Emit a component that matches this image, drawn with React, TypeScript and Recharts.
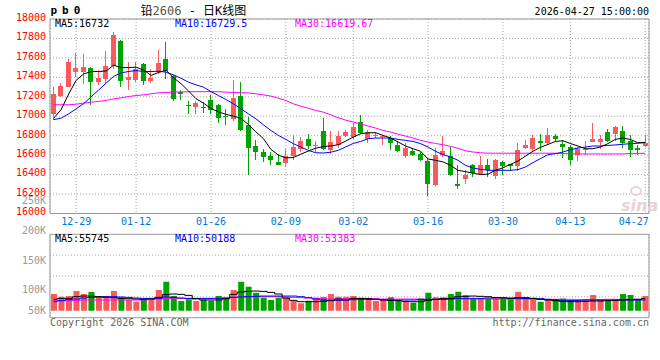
import React from "react";
import { ComposedChart, Bar, Line, XAxis, YAxis, CartesianGrid, ReferenceArea, Cell } from "recharts";

const FONT = '"DejaVu Sans Mono", "Liberation Mono", monospace';
const CJK = '"DejaVu Sans Mono", "Noto Sans CJK SC", monospace';
const RED = "#f95a5a";
const GREEN = "#00a400";
const GRID = "#a8a8a8";
const BORDER = "#999999";
const BLUE_TXT = "#0078d2";

const DATES = [
  "12-24","12-25","12-26","12-29","12-30","12-31","01-05","01-06","01-07","01-08",
  "01-09","01-12","01-13","01-14","01-15","01-16","01-19","01-20","01-21","01-22",
  "01-23","01-26","01-27","01-28","01-29","01-30","02-02","02-03","02-04","02-05",
  "02-06","02-09","02-10","02-11","02-12","02-13","02-24","02-25","02-26","02-27",
  "03-02","03-03","03-04","03-05","03-06","03-09","03-10","03-11","03-12","03-13",
  "03-16","03-17","03-18","03-19","03-20","03-23","03-24","03-25","03-26","03-27",
  "03-30","03-31","04-01","04-02","04-03","04-07","04-08","04-09","04-10","04-13",
  "04-14","04-15","04-16","04-17","04-20","04-21","04-22","04-23","04-24","04-27",
];

const OPEN = [
  17020,17210,17305,17460,17460,17495,17355,17380,17520,17775,
  17375,17375,17540,17365,17455,17590,17410,17250,17120,17090,
  17100,17170,17120,17000,16975,17205,16910,16690,16630,16590,
  16530,16520,16590,16660,16770,16690,16850,16650,16700,16795,
  16785,16940,16770,16800,16785,16775,16705,16590,16645,16610,
  16540,16290,16600,16590,16300,16350,16495,16410,16500,16385,
  16530,16505,16485,16675,16665,16745,16720,16795,16710,16685,
  16600,16650,16740,16740,16835,16815,16845,16750,16675,16695,
];
const HIGH = [
  17300,17340,17590,17650,17640,17505,17480,17670,17865,17780,
  17555,17555,17545,17485,17680,17765,17420,17270,17160,17160,
  17145,17215,17130,17075,17375,17350,16990,16760,16665,16630,
  16615,16665,16805,16785,16820,16750,16985,16845,16845,16855,
  16935,17015,16860,16840,16810,16795,16750,16730,16665,16630,
  16565,16675,16795,16685,16495,16445,16510,16590,16565,16565,
  16535,16510,16730,16760,16810,16820,16880,16820,16760,16700,
  16685,16750,16935,16805,16870,16900,16900,16810,16705,16805,
];
const LOW = [
  16965,17195,17300,17400,17335,17120,17325,17345,17485,17305,
  17265,17350,17325,17345,17435,17380,17160,17170,17025,17020,
  17035,17025,16935,16905,16955,16845,16400,16555,16525,16495,
  16495,16480,16555,16630,16665,16630,16650,16615,16675,16790,
  16770,16820,16730,16780,16700,16650,16630,16575,16590,16535,
  16185,16280,16580,16390,16255,16305,16375,16395,16375,16350,
  16400,16435,16435,16660,16630,16640,16700,16735,16570,16495,
  16535,16600,16735,16665,16735,16750,16675,16580,16605,16685,
];
const CLOSE = [
  17230,17315,17560,17495,17505,17350,17395,17515,17835,17365,
  17400,17485,17360,17390,17550,17470,17180,17225,17110,17140,
  17090,17060,16985,16990,17190,16855,16675,16630,16580,16545,
  16495,16590,16685,16745,16690,16700,16660,16735,16795,16835,
  16890,16830,16835,16810,16795,16730,16640,16675,16605,16545,
  16300,16600,16640,16400,16285,16395,16420,16495,16445,16555,
  16485,16485,16655,16700,16780,16720,16805,16770,16685,16555,
  16665,16665,16770,16770,16750,16890,16720,16650,16655,16720,
];

const MA5 = [
  16980,17070,17230,17370,17435,17460,17460,17465,17525,17500,
  17500,17505,17475,17420,17450,17473,17395,17335,17260,17180,
  17135,17080,17045,17020,17000,16980,16915,16840,16770,16660,
  16600,16572,16575,16610,16642,16672,16688,16695,16707,16745,
  16786,16820,16830,16830,16803,16776,16735,16694,16666,16639,
  16560,16547,16530,16495,16444,16430,16415,16400,16405,16445,
  16470,16505,16540,16590,16640,16680,16710,16741,16748,16720,
  16694,16666,16666,16683,16718,16762,16776,16762,16728,16732,
];
const MA10 = [
  16965,16981,17025,17077,17130,17200,17270,17340,17410,17446,
  17460,17470,17460,17460,17463,17453,17425,17391,17350,17323,
  17299,17254,17213,17172,17128,17077,17025,16974,16912,16854,
  16803,16762,16718,16683,16649,16625,16622,16630,16650,16685,
  16720,16741,16769,16776,16776,16776,16762,16752,16741,16718,
  16683,16639,16605,16581,16547,16495,16468,16454,16444,16444,
  16444,16444,16451,16478,16523,16564,16605,16615,16632,16656,
  16673,16683,16694,16694,16700,16705,16712,16718,16722,16729.5,
];
const MA30 = [
  17118,17118,17118,17124,17135,17145,17152,17162,17179,17189,
  17203,17213,17220,17231,17241,17244,17248,17250,17252,17253,
  17253,17253,17252,17248,17245,17242,17240,17231,17220,17207,
  17186,17162,17128,17104,17083,17060,17042,17015,16985,16960,
  16940,16920,16899,16878,16854,16837,16815,16796,16776,16752,
  16735,16720,16707,16690,16670,16645,16632,16625,16620,16620,
  16620,16620,16620,16620,16620,16620,16620,16620,16617,16615,
  16612,16612,16612,16612,16612,16612,16612,16618,16618,16619.67,
];

// volume, in thousands of lots
const VOLUME_K = [
  61.7,57.2,58.3,66.7,61.7,65.0,57.2,58.3,66.7,56.1,
  51.7,48.9,51.7,51.7,68.3,82.2,58.3,50.0,52.8,50.0,
  51.7,50.6,58.3,54.4,68.3,82.2,73.9,63.9,55.6,51.7,
  55.6,55.6,50.6,46.1,50.6,55.6,56.1,61.7,57.2,57.2,
  58.3,54.4,54.4,50.0,51.7,56.1,51.7,50.0,47.2,54.4,
  63.9,56.1,56.1,61.7,65.6,60.0,53.3,54.4,54.4,56.1,
  54.4,52.8,65.6,56.1,54.4,48.9,52.8,51.7,54.4,51.7,
  51.7,51.7,60.0,51.7,50.0,51.7,61.7,60.0,51.7,58.3,
];
const VMA5_K = [
  52.8,54.4,54.4,57.2,58.3,58.3,57.2,56.1,55.6,54.4,
  53.9,53.3,52.8,53.3,56.1,60.6,61.7,61.1,59.4,53.9,
  51.7,51.7,51.7,53.9,61.1,65.0,66.1,66.7,66.1,64.4,
  61.7,55.0,51.1,48.9,48.9,48.9,49.4,51.0,53.3,51.7,
  54.4,54.4,53.9,52.8,51.7,51.1,50.6,49.4,48.9,48.9,
  51.1,52.8,53.9,54.4,57.2,57.8,58.3,57.8,57.2,55.6,
  55.0,54.4,55.6,55.6,54.4,52.8,51.7,50.6,49.4,48.9,
  48.9,49.4,50.0,50.0,50.6,51.1,51.7,52.2,52.8,54.4,
];
const VMA10_K = [
  48.9,50.6,52.2,53.3,55.0,56.1,56.7,57.2,57.2,56.7,
  56.1,55.0,54.4,54.4,54.4,56.7,56.1,55.0,54.4,54.4,
  54.4,54.4,54.4,55.0,56.1,56.7,57.2,57.8,58.3,58.3,
  58.3,58.3,58.3,57.2,55.6,53.3,51.7,50.6,51.1,51.7,
  52.2,52.8,52.8,52.8,52.2,51.7,51.7,51.7,51.7,52.2,
  52.8,52.8,52.8,53.3,54.4,54.4,54.4,54.4,55.0,55.6,
  55.6,55.0,54.4,54.4,54.4,53.9,52.8,52.2,51.1,50.6,
  51.1,51.7,51.7,51.7,51.7,51.7,51.7,51.7,51.7,51.7,
];
const VMA30_K = [
  50.6,50.6,50.6,51.1,51.7,51.7,51.7,51.7,51.7,51.7,
  51.7,51.7,51.7,52.8,53.3,53.9,54.4,54.4,53.9,53.3,
  53.3,53.9,54.4,55.0,56.1,56.7,57.2,57.2,57.2,57.2,
  57.2,56.7,56.1,55.6,55.0,54.4,53.9,53.3,53.3,53.9,
  54.4,54.4,54.4,53.9,53.3,53.3,53.3,53.3,53.3,53.3,
  52.8,52.8,53.3,53.3,53.3,53.3,53.3,53.3,53.3,53.3,
  53.3,53.3,53.3,53.3,53.3,53.3,52.8,52.8,52.8,52.8,
  52.2,52.2,52.2,52.2,52.8,52.8,52.8,52.8,52.8,53.4,
];

const DATE_TICKS = ["12-29","01-12","01-26","02-09","03-02","03-16","03-30","04-13","04-27"];
const PRICE_TICKS = [16000,16200,16400,16600,16800,17000,17200,17400,17600,17800,18000];
const VOL_TICKS = [50,100,150,200,250];
const VOL_GRID = [50,100,150];
const VOL_FLOOR = 33.8;

const PRICE_LEGEND = [
  { label: "MA5:16732", color: "#000000", x: 55 },
  { label: "MA10:16729.5", color: "#0000ff", x: 175 },
  { label: "MA30:16619.67", color: "#ff00ff", x: 295 },
];
const VOL_LEGEND = [
  { label: "MA5:55745", color: "#000000", x: 55 },
  { label: "MA10:50188", color: "#0000ff", x: 175 },
  { label: "MA30:53383", color: "#ff00ff", x: 295 },
];

const rows = DATES.map((date, i) => ({
  date,
  open: OPEN[i],
  high: HIGH[i],
  low: LOW[i],
  close: CLOSE[i],
  ma5: MA5[i],
  ma10: MA10[i],
  ma30: MA30[i],
  vol: VOLUME_K[i],
  vma5: VMA5_K[i],
  vma10: VMA10_K[i],
  vma30: VMA30_K[i],
}));

const Candle = (props: any) => {
  const { x, y, width, height, payload } = props;
  if (!payload || x == null || y == null) return null;
  const top = Math.min(y, y + height);
  const h = Math.abs(height);
  const { open, close, high, low } = payload;
  const up = close >= open;
  const color = up ? RED : GREEN;
  const range = high - low || 1;
  const yOf = (p: number) => top + ((high - p) / range) * h;
  const bTop = yOf(Math.max(open, close));
  const bBot = yOf(Math.min(open, close));
  const cx = Math.floor(x + width / 2) + 0.5;
  return (
    <g shapeRendering="crispEdges">
      <line x1={cx} x2={cx} y1={top} y2={top + h} stroke={color} strokeWidth={1} />
      <rect x={cx - 2.5} y={bTop} width={5} height={Math.max(1, bBot - bTop)} fill={color} />
    </g>
  );
};

const PriceTick = (p: any) => (
  <text x={p.x} y={p.y + 1.8} textAnchor="end" fill="#ff0000" fontSize={10} fontFamily={FONT}>
    {p.payload.value}
  </text>
);

const DateTick = (p: any) => {
  const last = p.payload.value === DATE_TICKS[DATE_TICKS.length - 1];
  return (
    <text
      x={last ? p.x + 3.5 : p.x}
      y={p.y + 11.5}
      textAnchor={last ? "end" : "middle"}
      fill={BLUE_TXT}
      fontSize={10}
      fontFamily={FONT}
    >
      {p.payload.value}
    </text>
  );
};

const VolTick = (p: any) => {
  const v = p.payload.value;
  const shift = Math.min(13.4, -3.6 + ((200 - v) / 50) * 9.15);
  return (
    <text x={p.x} y={p.y + shift + 3.6} textAnchor="end" fill="#9a9a9a" fontSize={10} fontFamily={FONT}>
      {v + "K"}
    </text>
  );
};

export default function App() {
  return (
    <div
      style={{
        position: "absolute",
        left: 0,
        top: 0,
        width: 660,
        height: 360,
        background: "#ffffff",
        overflow: "hidden",
      }}
    >
      <div style={{ position: "absolute", left: 0, top: 0 }}>
        <ComposedChart width={660} height={230} data={rows} margin={{ top: 19, right: 11, bottom: 0, left: 0 }}>
          <CartesianGrid stroke={GRID} strokeDasharray="1 2" />
          <XAxis
            dataKey="date"
            ticks={DATE_TICKS}
            interval={0}
            tick={<DateTick />}
            axisLine={false}
            tickLine={false}
            tickSize={0}
            tickMargin={0}
            height={16.5}
          />
          <YAxis
            type="number"
            domain={[16000, 18000]}
            ticks={PRICE_TICKS}
            interval={0}
            allowDataOverflow
            tick={<PriceTick />}
            axisLine={false}
            tickLine={false}
            tickSize={0}
            tickMargin={4}
            width={50}
          />
          <ReferenceArea y1={16000} y2={18000} fill="none" stroke={BORDER} strokeWidth={1} />
          <Bar
            dataKey={(d: any) => [d.low, d.high]}
            barSize={5}
            shape={(props: any) => <Candle {...props} />}
            isAnimationActive={false}
          />
          <Line dataKey="ma30" stroke="#ff00ff" strokeWidth={1} dot={false} isAnimationActive={false} />
          <Line dataKey="ma10" stroke="#0000ff" strokeWidth={1} dot={false} isAnimationActive={false} />
          <Line dataKey="ma5" stroke="#000000" strokeWidth={1} dot={false} isAnimationActive={false} />
        </ComposedChart>
      </div>

      <div style={{ position: "absolute", left: 0, top: 190 }}>
        <ComposedChart width={660} height={130} data={rows} margin={{ top: 44.3, right: 11, bottom: 1.3, left: 0 }}>
          <CartesianGrid stroke={GRID} strokeDasharray="1 2" horizontalValues={VOL_GRID} />
          <XAxis
            dataKey="date"
            ticks={DATE_TICKS}
            interval={0}
            tick={false}
            axisLine={false}
            tickLine={false}
            height={1}
          />
          <YAxis
            type="number"
            domain={[0, 200]}
            ticks={VOL_TICKS}
            interval={0}
            allowDataOverflow
            tick={<VolTick />}
            axisLine={false}
            tickLine={false}
            tickSize={0}
            tickMargin={4}
            width={50}
          />
          <YAxis yAxisId="v" type="number" hide domain={[22.2, 161.2]} allowDataOverflow />
          <ReferenceArea y1={0} y2={200} fill="none" stroke={BORDER} strokeWidth={1} />
          <Bar yAxisId="v" dataKey={(d: any) => [VOL_FLOOR, d.vol]} barSize={6} isAnimationActive={false}>
            {rows.map((r, i) => (
              <Cell key={i} fill={r.close >= r.open ? RED : GREEN} />
            ))}
          </Bar>
          <Line yAxisId="v" type="step" dataKey="vma30" stroke="#ff00ff" strokeWidth={1} dot={false} isAnimationActive={false} />
          <Line yAxisId="v" type="step" dataKey="vma10" stroke="#0000ff" strokeWidth={1} dot={false} isAnimationActive={false} />
          <Line yAxisId="v" type="step" dataKey="vma5" stroke="#000000" strokeWidth={1} dot={false} isAnimationActive={false} />
        </ComposedChart>
      </div>

      <svg width={660} height={360} style={{ position: "absolute", left: 0, top: 0, pointerEvents: "none" }}>
        <text x={50.5} y={13.5} fontFamily={FONT} fontSize={11} fontWeight="bold" letterSpacing={5} fill="#000">
          pb0
        </text>
        <text x={140.5} y={15} fontFamily={CJK} fontSize={12} fill="#000">
          铅<tspan fill="#555">2606</tspan> - 日K线图
        </text>
        <text x={649} y={15} textAnchor="end" fontFamily={FONT} fontSize={10} fill="#000">
          2026-04-27 15:00:00
        </text>
        {PRICE_LEGEND.map((l) => (
          <text key={l.label} x={l.x} y={26.7} fontFamily={FONT} fontSize={10} fill={l.color}>
            {l.label}
          </text>
        ))}
        {VOL_LEGEND.map((l) => (
          <text key={l.label} x={l.x} y={241.7} fontFamily={FONT} fontSize={10} fill={l.color}>
            {l.label}
          </text>
        ))}
        <text x={50} y={326} fontFamily={FONT} fontSize={10} fill="#666">
          Copyright 2026 SINA.COM
        </text>
        <text x={649} y={326} textAnchor="end" fontFamily={FONT} fontSize={10} fill="#666">
          http://finance.sina.com.cn
        </text>
        <ellipse cx={636} cy={191} rx={5} ry={4} fill="none" stroke="#ecd2d2" strokeWidth={2} />
        <text x={621} y={211} fontFamily='"DejaVu Sans", sans-serif' fontSize={16} fontStyle="italic" fontWeight="bold" fill="#e9d3d3">
          sina
        </text>
      </svg>
    </div>
  );
}
